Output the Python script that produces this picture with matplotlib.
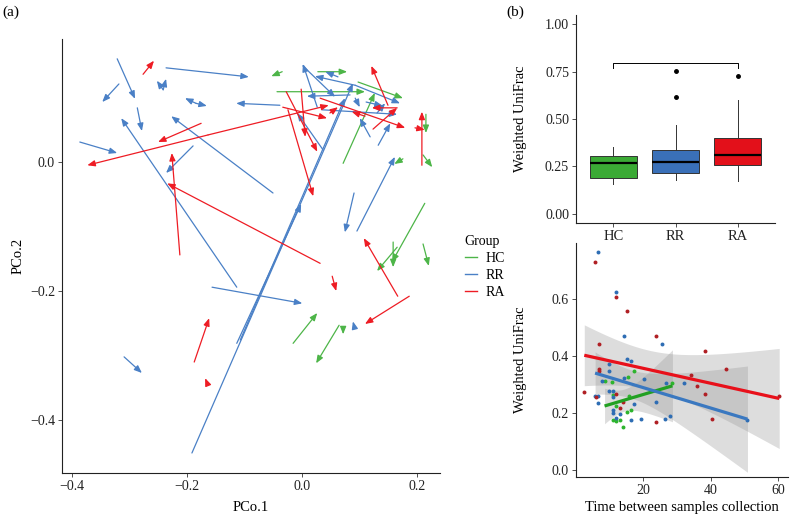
import numpy as np
import matplotlib
matplotlib.use("Agg")
import matplotlib.pyplot as plt
from matplotlib.lines import Line2D

plt.rcParams['font.family'] = ['Liberation Serif', 'DejaVu Serif']

# ---------------- Panel (a): PCoA arrows (tail -> head) ----------------
hc_x0 = [0.214, 0.159, 0.166, 0.211, -0.015, 0.065, 0.072, 0.098, -0.043, 0.028, 0.216, 0.211, 0.176, 0.072, -0.034]
hc_y0 = [-0.064, -0.124, -0.132, -0.127, -0.281, -0.253, -0.259, 0.124, 0.109, 0.140, 0.074, 0.011, 0.005, -0.002, 0.140]
hc_x1 = [0.157, 0.159, 0.131, 0.221, 0.027, 0.025, 0.072, 0.176, 0.110, 0.079, 0.216, 0.227, 0.161, 0.127, -0.053]
hc_y1 = [-0.155, -0.163, -0.169, -0.161, -0.234, -0.312, -0.267, 0.099, 0.109, 0.140, 0.045, -0.008, -0.003, 0.107, 0.133]

rr_x0 = [-0.321, -0.236, -0.241, -0.241, -0.318, -0.184, -0.184, -0.038, -0.286, -0.050, -0.386, -0.189,
         -0.113, -0.156, -0.309, -0.191, -0.113, -0.107, 0.091, 0.096, 0.091, 0.084, 0.093, 0.112,
         0.093, 0.093, 0.063, 0.027, 0.002, 0.133, 0.119, 0.035, 0.131, 0.037]
rr_y0 = [0.160, 0.146, 0.112, 0.112, 0.121, 0.091, 0.091, 0.088, 0.084, -0.048, 0.031, 0.025,
         -0.194, -0.194, -0.302, -0.451, -0.281, -0.276, -0.048, -0.107, -0.254, 0.104, 0.099, 0.093,
         0.119, 0.119, 0.132, 0.085, 0.149, 0.026, 0.039, 0.081, 0.076, 0.019]
rr_x1 = [-0.290, -0.092, -0.252, -0.236, -0.347, -0.203, -0.165, -0.114, -0.278, -0.227, -0.321, -0.236,
         -0.314, 0.001, -0.278, 0.089, -0.001, 0.075, 0.075, 0.162, 0.089, 0.009, 0.101, 0.141,
         0.171, 0.023, 0.041, 0.002, 0.058, 0.154, 0.101, 0.166, 0.145, -0.008]
rr_y1 = [0.098, 0.132, 0.126, 0.129, 0.093, 0.099, 0.087, 0.091, 0.048, 0.071, 0.014, -0.017,
         0.068, -0.219, -0.327, 0.122, -0.065, 0.099, -0.109, 0.008, -0.247, 0.102, 0.085, 0.087,
         0.091, 0.133, 0.140, 0.152, 0.101, 0.060, 0.068, 0.074, 0.091, 0.076]

ra_x0 = [-0.276, -0.175, -0.163, -0.163, -0.212, 0.032, -0.187, -0.163, -0.024, -0.027, -0.001, 0.167,
         0.053, 0.187, 0.150, 0.166, 0.124, 0.032, 0.197, 0.209, 0.110, 0.049, -0.033]
ra_y0 = [0.136, 0.060, 0.042, 0.042, -0.144, -0.157, -0.310, -0.346, 0.081, 0.109, 0.113, -0.208,
         -0.177, -0.208, 0.088, 0.084, 0.051, 0.099, 0.053, -0.005, 0.071, 0.076, 0.085]
ra_x1 = [-0.257, -0.250, -0.373, 0.047, -0.226, -0.234, -0.161, -0.168, 0.020, 0.027, 0.006, 0.108,
         0.060, 0.110, 0.121, 0.122, 0.166, 0.180, 0.214, 0.209, 0.087, 0.063, 0.044]
ra_y1 = [0.157, 0.031, -0.005, 0.088, 0.014, -0.033, -0.242, -0.335, -0.053, 0.016, 0.039, -0.118,
         -0.200, -0.251, 0.149, 0.084, 0.084, 0.053, 0.050, 0.078, 0.078, 0.085, 0.068]

groups = ['HC', 'RR', 'RA']
arrow_colors = {'HC': '#4DB548', 'RR': '#4A80C6', 'RA': '#EE1C24'}

# ---------------- Panel (b) top: boxplot stats ----------------
box_med = [0.265, 0.275, 0.310]
box_q1 = [0.190, 0.215, 0.255]
box_q3 = [0.305, 0.335, 0.400]
box_lo = [0.155, 0.175, 0.170]
box_hi = [0.350, 0.470, 0.600]
box_fliers = [[], [0.615, 0.755], [0.725]]
box_fill = ['#3BAA35', '#3A70B8', '#E3101A']
bracket_y = 0.795
bracket_tip = 0.772

# ---------------- Panel (b) bottom: scatter ----------------
hc_t = [8.6, 10.9, 17.2, 15.4, 28.7, 15.9, 11.1, 12.1, 15.1, 16.3, 11.1, 12.1, 13.1, 14.1]
hc_w = [0.311, 0.308, 0.348, 0.325, 0.305, 0.261, 0.264, 0.226, 0.202, 0.209, 0.174, 0.170, 0.174, 0.152]
rr_t = [6.7, 11.9, 14.3, 25.6, 15.1, 16.3, 9.9, 9.9, 14.4, 20.3, 7.8, 26.7, 32.1, 9.8, 11.1,
        5.8, 6.8, 11.1, 6.7, 23.8, 17.3, 11.1, 11.1, 13.3, 12.0, 19.5, 16.3, 26.6, 27.9, 50.9]
rr_w = [0.764, 0.624, 0.469, 0.442, 0.389, 0.383, 0.372, 0.346, 0.322, 0.319, 0.311, 0.305, 0.304, 0.276, 0.276,
        0.260, 0.258, 0.256, 0.234, 0.238, 0.231, 0.209, 0.199, 0.196, 0.184, 0.179, 0.174, 0.179, 0.188, 0.175]
ra_t = [5.8, 12.1, 15.3, 6.9, 23.7, 6.9, 6.9, 2.6, 6.0, 38.3, 44.5, 34.1, 36.0, 38.4, 11.9, 13.1, 14.1, 23.7, 40.4, 60.3]
ra_w = [0.729, 0.607, 0.559, 0.443, 0.470, 0.354, 0.348, 0.273, 0.256, 0.416, 0.354, 0.334, 0.293, 0.267,
        0.267, 0.217, 0.238, 0.168, 0.179, 0.258]
pt_colors = {'HC': '#2DB42D', 'RR': '#2E6DB4', 'RA': '#B01F24'}
fit_colors = {'HC': '#22A022', 'RR': '#3A78C0', 'RA': '#E8101A'}

W, H = 790, 516
fig = plt.figure(figsize=(W / 100, H / 100), dpi=100)

def frac(l, t, r, b):
    return [l / W, 1 - b / H, (r - l) / W, (b - t) / H]

tick_fs = 10
lab_fs = 10.5

# ---- Panel a ----
axa = fig.add_axes(frac(62, 39, 440, 473))
arrows = {'HC': (hc_x0, hc_y0, hc_x1, hc_y1),
          'RR': (rr_x0, rr_y0, rr_x1, rr_y1),
          'RA': (ra_x0, ra_y0, ra_x1, ra_y1)}
for g in groups:
    x0, y0, x1, y1 = arrows[g]
    for a, b, c, d in zip(x0, y0, x1, y1):
        axa.annotate('', xy=(c, d), xytext=(a, b),
                     arrowprops=dict(arrowstyle='-|>,head_length=0.45,head_width=0.18',
                                     color=arrow_colors[g], lw=0.9,
                                     shrinkA=0, shrinkB=0))
axa.set_xlim(-0.417, 0.2405)
axa.set_ylim(-0.482, 0.1907)
axa.set_xticks([-0.4, -0.2, 0.0, 0.2])
axa.set_xticklabels(['−0.4', '−0.2', '0.0', '0.2'])
axa.set_yticks([-0.4, -0.2, 0.0])
axa.set_yticklabels(['−0.4', '−0.2', '0.0'])
axa.set_xlabel('PCo.1', fontsize=lab_fs, labelpad=6)
axa.set_ylabel('PCo.2', fontsize=lab_fs)
axa.yaxis.set_label_coords(-0.098, 0.5)

# ---- Panel b top ----
axb = fig.add_axes(frac(576, 15, 775, 223))
stats = []
for i in range(3):
    stats.append(dict(med=box_med[i], q1=box_q1[i], q3=box_q3[i],
                      whislo=box_lo[i], whishi=box_hi[i], fliers=box_fliers[i], label=groups[i]))
bp = axb.bxp(stats, positions=[1, 2, 3], widths=0.75, patch_artist=True,
             boxprops=dict(edgecolor='#333333', linewidth=0.7),
             whiskerprops=dict(color='#333333', linewidth=0.7),
             capprops=dict(linewidth=0),
             medianprops=dict(color='black', linewidth=1.6),
             flierprops=dict(marker='o', markerfacecolor='black', markeredgecolor='black', markersize=2.5))
for p, c in zip(bp['boxes'], box_fill):
    p.set_facecolor(c)
axb.plot([1, 1, 3, 3], [bracket_tip, bracket_y, bracket_y, bracket_tip], color='black', lw=0.7)
axb.set_xlim(0.4, 3.6)
axb.set_ylim(-0.05, 1.05)
axb.set_yticks([0, 0.25, 0.5, 0.75, 1.0])
axb.set_yticklabels(['0.00', '0.25', '0.50', '0.75', '1.00'])
axb.set_ylabel('Weighted UniFrac', fontsize=lab_fs)
axb.yaxis.set_label_coords(-0.246, 0.5)

# ---- Panel b bottom ----
axc = fig.add_axes(frac(576, 243, 788, 477))
scat = {'HC': (hc_t, hc_w), 'RR': (rr_t, rr_w), 'RA': (ra_t, ra_w)}

def tcrit(df):
    z = 1.959964
    return z + (z**3 + z) / (4 * df) + (5 * z**5 + 16 * z**3 + 3 * z) / (96 * df**2)

for g in ['HC', 'RR', 'RA']:
    x, y = np.array(scat[g][0]), np.array(scat[g][1])
    n = len(x)
    b1, b0 = np.polyfit(x, y, 1)
    xs = np.linspace(x.min(), x.max(), 100)
    ys = b0 + b1 * xs
    resid = y - (b0 + b1 * x)
    s = np.sqrt(np.sum(resid**2) / (n - 2))
    sxx = np.sum((x - x.mean())**2)
    se = s * np.sqrt(1 / n + (xs - x.mean())**2 / sxx)
    tc = tcrit(n - 2)
    axc.fill_between(xs, ys - tc * se, ys + tc * se, color='#999999', alpha=0.33, lw=0, zorder=1)
for g in ['HC', 'RR', 'RA']:
    x, y = scat[g]
    axc.scatter(x, y, s=8, color=pt_colors[g], lw=0, zorder=3)
for g in ['HC', 'RR', 'RA']:
    x, y = np.array(scat[g][0]), np.array(scat[g][1])
    b1, b0 = np.polyfit(x, y, 1)
    xs = np.linspace(x.min(), x.max(), 100)
    axc.plot(xs, b0 + b1 * xs, color=fit_colors[g], lw=2.3, zorder=4, solid_capstyle='butt')
axc.set_xlim(0.15, 62.9)
axc.set_ylim(-0.025, 0.797)
axc.set_xticks([20, 40, 60])
axc.set_yticks([0.0, 0.2, 0.4, 0.6])
axc.set_yticklabels(['0.0', '0.2', '0.4', '0.6'])
axc.set_xlabel('Time between samples collection', fontsize=lab_fs, labelpad=3)
axc.set_ylabel('Weighted UniFrac', fontsize=lab_fs)
axc.yaxis.set_label_coords(-0.231, 0.5)

for ax in (axa, axb, axc):
    for sp in ('top', 'right'):
        ax.spines[sp].set_visible(False)
    for sp in ('left', 'bottom'):
        ax.spines[sp].set_linewidth(0.8)
        ax.spines[sp].set_color('#222222')
    ax.tick_params(axis='both', labelsize=tick_fs, length=3, width=0.6, colors='#333333',
                   labelcolor='#222222', pad=2)
axb.tick_params(axis='x', labelsize=10.5)

# legend
handles = [Line2D([0], [0], color=arrow_colors[g], lw=1.0) for g in groups]
leg = fig.legend(handles, groups, title='Group', loc='upper left',
                 bbox_to_anchor=(452 / W, 1 - 222 / H), frameon=False,
                 fontsize=10, title_fontsize=10, handlelength=0.9, handletextpad=0.6,
                 labelspacing=0.3)
leg._legend_box.align = 'left'

fig.text(2 / W, 1 - 12 / H, '(a)', fontsize=11, va='center', ha='left')
fig.text(506 / W, 1 - 12 / H, '(b)', fontsize=11, va='center', ha='left')

fig.savefig('out.png', dpi=100, facecolor='white')
